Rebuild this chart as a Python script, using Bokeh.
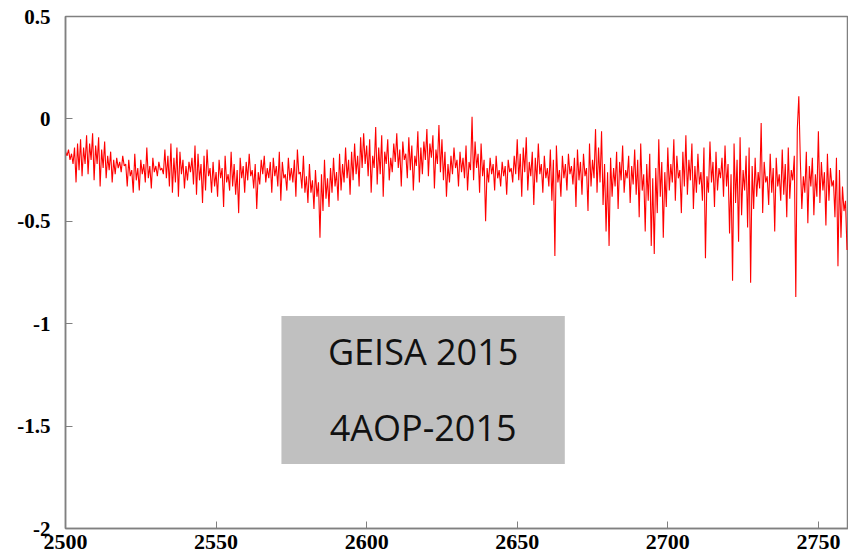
from bokeh.plotting import figure
from bokeh.models import FixedTicker, BoxAnnotation, Range1d, Label
from bokeh.embed import file_html
from bokeh.resources import INLINE

x_start = 2500.0
x_step = 0.5
values = [
    -0.16,-0.18,-0.15,-0.20,-0.17,-0.22,-0.14,-0.31,-0.12,-0.25,-0.10,-0.28,-0.14,-0.22,-0.08,-0.27,-0.12,-0.20,-0.07,-0.30,
    -0.13,-0.22,-0.09,-0.33,-0.15,-0.24,-0.11,-0.29,-0.18,-0.25,-0.16,-0.31,-0.20,-0.27,-0.19,-0.24,-0.21,-0.26,-0.18,-0.23,
    -0.22,-0.33,-0.20,-0.28,-0.25,-0.36,-0.17,-0.30,-0.24,-0.35,-0.20,-0.27,-0.22,-0.31,-0.14,-0.29,-0.23,-0.34,-0.19,-0.26,
    -0.23,-0.28,-0.21,-0.25,-0.24,-0.27,-0.15,-0.29,-0.18,-0.33,-0.12,-0.36,-0.19,-0.31,-0.14,-0.38,-0.16,-0.27,-0.20,-0.34,
    -0.23,-0.30,-0.21,-0.26,-0.19,-0.32,-0.13,-0.37,-0.17,-0.30,-0.22,-0.41,-0.18,-0.35,-0.15,-0.28,-0.24,-0.36,-0.21,-0.33,
    -0.26,-0.38,-0.20,-0.29,-0.24,-0.43,-0.18,-0.31,-0.27,-0.35,-0.16,-0.33,-0.22,-0.37,-0.25,-0.46,-0.19,-0.29,-0.23,-0.36,
    -0.21,-0.30,-0.17,-0.28,-0.25,-0.34,-0.22,-0.44,-0.26,-0.32,-0.20,-0.27,-0.18,-0.31,-0.24,-0.29,-0.21,-0.36,-0.19,-0.28,
    -0.23,-0.33,-0.16,-0.40,-0.21,-0.29,-0.27,-0.35,-0.19,-0.30,-0.24,-0.31,-0.20,-0.38,-0.15,-0.27,-0.26,-0.34,-0.18,-0.36,
    -0.28,-0.41,-0.22,-0.36,-0.30,-0.44,-0.25,-0.38,-0.31,-0.58,-0.27,-0.45,-0.20,-0.39,-0.29,-0.43,-0.24,-0.36,-0.19,-0.33,
    -0.26,-0.40,-0.17,-0.35,-0.22,-0.31,-0.14,-0.29,-0.20,-0.37,-0.16,-0.30,-0.12,-0.27,-0.18,-0.33,-0.09,-0.24,-0.07,-0.22,
    -0.13,-0.28,-0.10,-0.36,-0.18,-0.24,-0.04,-0.32,-0.14,-0.27,-0.08,-0.38,-0.16,-0.22,-0.10,-0.30,-0.19,-0.26,-0.12,-0.21,
    -0.07,-0.24,-0.15,-0.33,-0.11,-0.20,-0.17,-0.29,-0.09,-0.25,-0.13,-0.35,-0.18,-0.23,-0.06,-0.31,-0.14,-0.27,-0.11,-0.20,
    -0.05,-0.28,-0.12,-0.19,-0.08,-0.34,-0.15,-0.22,-0.03,-0.26,-0.10,-0.30,-0.16,-0.38,-0.22,-0.31,-0.18,-0.27,-0.14,-0.24,
    -0.20,-0.33,-0.16,-0.26,-0.19,-0.29,-0.13,-0.35,-0.21,-0.25,0.01,-0.30,-0.11,-0.24,-0.17,-0.36,-0.12,-0.28,-0.20,-0.50,
    -0.24,-0.31,-0.19,-0.27,-0.22,-0.35,-0.18,-0.29,-0.25,-0.33,-0.21,-0.28,-0.23,-0.37,-0.20,-0.26,-0.24,-0.31,-0.18,-0.27,
    -0.10,-0.30,-0.17,-0.38,-0.14,-0.26,-0.09,-0.35,-0.21,-0.28,-0.16,-0.42,-0.19,-0.31,-0.12,-0.27,-0.22,-0.36,-0.18,-0.29,
    -0.24,-0.33,-0.15,-0.40,-0.20,-0.67,-0.13,-0.31,-0.25,-0.38,-0.18,-0.29,-0.22,-0.35,-0.17,-0.27,-0.23,-0.32,-0.19,-0.43,
    -0.15,-0.30,-0.21,-0.37,-0.17,-0.28,-0.24,-0.45,-0.12,-0.33,-0.20,-0.29,-0.05,-0.36,-0.14,-0.31,-0.06,-0.42,-0.22,-0.55,
    -0.26,-0.62,-0.19,-0.38,-0.24,-0.33,-0.16,-0.44,-0.21,-0.30,-0.13,-0.36,-0.25,-0.29,-0.18,-0.41,-0.23,-0.32,-0.15,-0.37,
    -0.20,-0.48,-0.12,-0.35,-0.27,-0.55,-0.22,-0.40,-0.17,-0.62,-0.29,-0.66,-0.24,-0.46,-0.10,-0.38,-0.21,-0.58,-0.26,-0.43,
    -0.14,-0.35,-0.22,-0.31,-0.10,-0.40,-0.18,-0.29,-0.25,-0.46,-0.16,-0.33,-0.08,-0.37,-0.20,-0.30,-0.12,-0.44,-0.23,-0.36,
    -0.17,-0.32,-0.26,-0.40,-0.14,-0.68,-0.28,-0.36,-0.11,-0.31,-0.21,-0.43,-0.16,-0.35,-0.24,-0.29,-0.19,-0.38,-0.13,-0.33,
    -0.22,-0.56,-0.27,-0.79,-0.12,-0.41,-0.20,-0.60,-0.09,-0.47,-0.25,-0.35,-0.18,-0.53,-0.14,-0.80,-0.23,-0.44,-0.19,-0.38,
    -0.26,-0.34,-0.02,-0.46,-0.21,-0.31,-0.28,-0.42,-0.17,-0.36,-0.24,-0.55,-0.19,-0.33,-0.27,-0.40,-0.15,-0.37,-0.22,-0.48,
    -0.14,-0.39,-0.25,-0.30,-0.18,-0.87,-0.05,0.11,-0.20,-0.44,-0.28,-0.36,-0.16,-0.51,-0.23,-0.33,-0.19,-0.47,-0.27,-0.38,
    -0.06,-0.41,-0.21,-0.35,-0.26,-0.52,-0.17,-0.40,-0.24,-0.33,-0.30,-0.48,-0.19,-0.72,-0.25,-0.58,-0.33,-0.45,-0.40,-0.64,
]
wavenumbers = [x_start + i * x_step for i in range(len(values))]

x_ticks = [2500, 2550, 2600, 2650, 2700, 2750]
y_ticks = [-2, -1.5, -1, -0.5, 0, 0.5]
y_tick_labels = {-2: "-2", -1.5: "-1.5", -1: "-1", -0.5: "-0.5", 0: "0", 0.5: "0.5"}

box_x = (2571.7, 2665.8)
box_y = (-1.685, -0.962)
label_lines = ["GEISA 2015", "4AOP-2015"]
label_y = [-1.138, -1.509]

p = figure(width=848, height=555, output_backend="svg", toolbar_location=None,
           x_range=Range1d(2500, 2760), y_range=Range1d(-2, 0.5),
           min_border_left=65, min_border_top=16, min_border_right=0, min_border_bottom=27)
p.background_fill_color = "white"
p.border_fill_color = "white"
p.outline_line_color = "#808080"
p.outline_line_width = 1.5
p.xgrid.visible = False
p.ygrid.visible = False

p.line(wavenumbers, values, line_color="#ff0000", line_width=1.1)

for ax in (p.xaxis[0], p.yaxis[0]):
    ax.axis_line_color = "#808080"
    ax.axis_line_width = 1.5
    ax.major_tick_line_color = "#808080"
    ax.major_tick_in = 7
    ax.major_tick_out = 0
    ax.minor_tick_line_color = None
    ax.major_label_text_font = "Liberation Serif"
    ax.major_label_text_font_style = "bold"
    ax.major_label_text_color = "black"

p.xaxis[0].major_label_text_font_size = "22px"
p.yaxis[0].major_label_text_font_size = "21px"
p.xaxis[0].ticker = FixedTicker(ticks=x_ticks)
p.xaxis[0].major_label_standoff = 6
p.yaxis[0].ticker = FixedTicker(ticks=y_ticks)
p.yaxis[0].major_label_overrides = y_tick_labels
p.yaxis[0].major_label_standoff = 15

p.add_layout(BoxAnnotation(left=box_x[0], right=box_x[1], bottom=box_y[0], top=box_y[1],
                           fill_color="#c0c0c0", fill_alpha=1.0, line_color=None))
cx = (box_x[0] + box_x[1]) / 2
for txt, yy in zip(label_lines, label_y):
    p.add_layout(Label(x=cx, y=yy, text=txt, text_align="center", text_baseline="middle",
                       text_font="Open Sans", text_font_size="36px", text_color="#111111"))

open("out.html", "w").write(file_html(p, INLINE))
